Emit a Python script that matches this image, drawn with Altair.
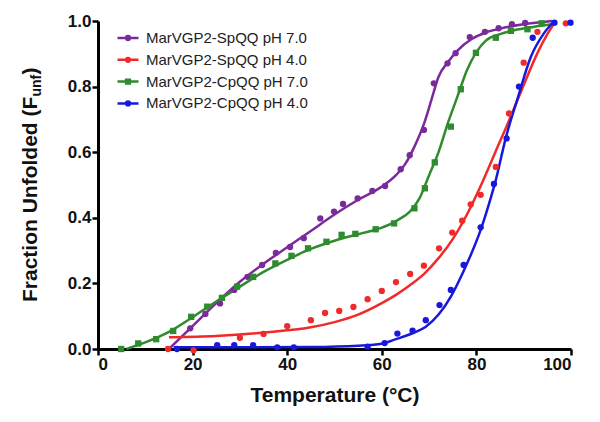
import altair as alt
import pandas as pd

# ---------------- data ----------------
series = ["MarVGP2-SpQQ pH 7.0", "MarVGP2-SpQQ pH 4.0",
          "MarVGP2-CpQQ pH 7.0", "MarVGP2-CpQQ pH 4.0"]
colors = ["#7b2a9c", "#f02a2a", "#2e8b2e", "#1818dc"]
shapes = ["circle", "circle", "square", "circle"]

x_ticks = [0, 20, 40, 60, 80, 100]
y_ticks = [0.0, 0.2, 0.4, 0.6, 0.8, 1.0]

# measured points
sp7_t = [19.5, 22.7, 25.8, 28.8, 31.6, 34.7, 37.6, 40.6, 43.5, 47.0, 49.9, 51.8,
         54.9, 58.0, 60.7, 64.0, 65.9, 68.9, 71.0, 73.9, 75.6, 78.6, 81.8, 84.7,
         87.5, 90.3]
sp7_f = [0.063, 0.107, 0.139, 0.180, 0.220, 0.256, 0.293, 0.311, 0.338, 0.398,
         0.419, 0.442, 0.459, 0.482, 0.497, 0.548, 0.591, 0.668, 0.810, 0.871,
         0.902, 0.951, 0.967, 0.978, 0.990, 0.994]

sp4_t = [14.8, 20.2, 30.0, 35.0, 40.0, 45.0, 48.0, 51.0, 54.0, 57.0, 60.0, 63.0,
         66.0, 68.9, 72.1, 74.9, 77.0, 78.8, 80.9, 84.1, 86.9, 90.0, 92.9, 98.9]
sp4_f = [0.000, -0.004, 0.034, 0.046, 0.070, 0.088, 0.110, 0.116, 0.128, 0.152,
         0.177, 0.204, 0.229, 0.254, 0.307, 0.355, 0.391, 0.441, 0.470, 0.555,
         0.718, 0.873, 0.967, 0.993]

cp7_t = [4.9, 8.5, 12.3, 15.9, 19.7, 23.1, 26.2, 29.4, 32.8, 37.5, 40.9, 44.4,
         48.3, 51.5, 54.4, 58.7, 62.6, 66.9, 69.1, 71.2, 74.6, 76.7, 79.9, 84.1,
         87.3, 90.8, 93.8]
cp7_f = [0.000, 0.017, 0.030, 0.055, 0.098, 0.129, 0.156, 0.190, 0.220, 0.261,
         0.284, 0.307, 0.327, 0.348, 0.351, 0.365, 0.383, 0.429, 0.490, 0.569,
         0.678, 0.792, 0.903, 0.949, 0.970, 0.975, 0.993]

cp4_t = [16.7, 25.2, 28.8, 32.8, 37.9, 41.4, 57.0, 60.6, 63.3, 66.5, 69.3, 72.2,
         74.6, 77.3, 80.9, 83.7, 86.4, 89.0, 91.9, 96.5, 99.9]
cp4_f = [0.000, 0.012, 0.012, 0.012, 0.005, 0.005, 0.007, 0.018, 0.047, 0.056,
         0.088, 0.134, 0.180, 0.256, 0.371, 0.503, 0.642, 0.800, 0.949, 0.995,
         0.995]

# fitted curves
sp7_fit_t = [15, 20, 25, 30, 35, 40, 45, 50, 55, 60, 63, 65, 67, 69, 70.5, 72,
             74, 76, 79, 82, 86, 90, 96]
sp7_fit_f = [0.0, 0.07, 0.14, 0.205, 0.26, 0.31, 0.36, 0.41, 0.455, 0.495, 0.53,
             0.565, 0.62, 0.69, 0.76, 0.83, 0.875, 0.91, 0.945, 0.965, 0.98,
             0.99, 1.0]

sp4_fit_t = [15, 25, 35, 45, 50, 55, 60, 63, 66, 69, 72, 75, 78, 81, 84,
             87, 90, 93, 95, 96.8]
sp4_fit_f = [0.036, 0.04, 0.05, 0.066, 0.082, 0.105, 0.14, 0.165, 0.195,
             0.23, 0.277, 0.335, 0.41, 0.5, 0.6, 0.7, 0.805, 0.905, 0.96, 1.0]

cp7_fit_t = [6, 10, 15, 20, 25, 30, 35, 40, 45, 50, 55, 60, 63, 66, 68, 70, 72,
             74, 76, 78, 80, 82, 85, 88, 92, 96]
cp7_fit_f = [0.0, 0.02, 0.052, 0.097, 0.145, 0.19, 0.235, 0.272, 0.305, 0.33,
             0.35, 0.37, 0.39, 0.42, 0.46, 0.53, 0.6, 0.69, 0.77, 0.85, 0.905,
             0.94, 0.96, 0.972, 0.982, 0.99]

cp4_fit_t = [16, 30, 45, 55, 60, 63, 66.5, 69.3, 72, 74.6, 77.4, 80.9, 83.1,
             84.1, 86.2, 88.8, 91.5, 94.3, 96.5]
cp4_fit_f = [0.005, 0.005, 0.006, 0.01, 0.016, 0.03, 0.048, 0.068, 0.105, 0.16,
             0.241, 0.363, 0.464, 0.515, 0.643, 0.768, 0.89, 0.963, 1.0]

y_title_main = ["Fraction Unfolded (F"]
y_title_sub = ["unf"]
y_title_close = [")"]

# ---------------- tables ----------------
def long(name, t, f):
    return pd.DataFrame({"series": name, "temp": t, "frac": f})

pts = pd.concat([long(series[0], sp7_t, sp7_f), long(series[1], sp4_t, sp4_f),
                 long(series[2], cp7_t, cp7_f), long(series[3], cp4_t, cp4_f)])
fits = pd.concat([long(series[0], sp7_fit_t, sp7_fit_f),
                  long(series[1], sp4_fit_t, sp4_fit_f),
                  long(series[2], cp7_fit_t, cp7_fit_f),
                  long(series[3], cp4_fit_t, cp4_fit_f)])

FONT = "Liberation Sans"

# legend glyphs: short line with a small marker
circle_path = "M-1,0H1M-0.18,0A0.18,0.18 0 1,0 0.18,0A0.18,0.18 0 1,0 -0.18,0Z"
square_path = "M-1,0H1M-0.18,-0.18H0.18V0.18H-0.18Z"
legend_shapes = [circle_path, circle_path, square_path, circle_path]

x_enc = alt.X("temp:Q",
              scale=alt.Scale(domain=[0, 100], nice=False, zero=False),
              axis=alt.Axis(values=x_ticks, title="Temperature (°C)",
                            titleFontSize=21, titlePadding=12))
y_enc = alt.Y("frac:Q",
              scale=alt.Scale(domain=[0, 1], nice=False),
              axis=alt.Axis(values=y_ticks, format=".1f", title=None))

color_scale = alt.Scale(domain=series, range=colors)

lines = alt.Chart(fits).mark_line(strokeWidth=2.5, interpolate="monotone").encode(
    x=x_enc, y=y_enc,
    color=alt.Color("series:N", scale=color_scale, legend=None),
)

points = alt.Chart(pts).mark_point(filled=True, size=40, opacity=1).encode(
    x=x_enc, y=y_enc,
    color=alt.Color("series:N", scale=color_scale, legend=None),
    shape=alt.Shape("series:N", scale=alt.Scale(domain=series, range=shapes),
                    legend=None),
)

leg = dict(title=None, orient="none", legendX=18, legendY=5,
           symbolSize=441, symbolStrokeWidth=2.5, symbolOpacity=1,
           labelFont=FONT, labelFontSize=15, labelColor="#222", labelOffset=6,
           labelLimit=400, rowPadding=1.8, padding=0)

legend_layer = alt.Chart(pts).transform_filter("false").mark_point(
    filled=False, strokeWidth=2.5
).encode(
    x=x_enc, y=y_enc,
    color=alt.Color("series:N", scale=color_scale, legend=alt.Legend(**leg)),
    shape=alt.Shape("series:N",
                    scale=alt.Scale(domain=series, range=legend_shapes),
                    legend=alt.Legend(**leg)),
)

def title_piece(values, size, xpos, ypos):
    return alt.Chart(pd.DataFrame({"t": values})).mark_text(
        angle=270, align="left", baseline="alphabetic", font=FONT,
        fontWeight="bold", fontSize=size, color="#111"
    ).encode(x=alt.value(xpos), y=alt.value(ypos), text="t:N")

yt1 = title_piece(y_title_main, 21, -61, 281)
yt2 = title_piece(y_title_sub, 14, -57, 75.5)
yt3 = title_piece(y_title_close, 21, -61, 53.5)

chart = alt.layer(lines, points, legend_layer, yt1, yt2, yt3).resolve_scale(
    color="independent", shape="independent"
).properties(
    width=473, height=328,
    background="white",
    autosize=alt.AutoSizeParams(type="none"),
    padding={"left": 90, "top": 13, "right": 21, "bottom": 65},
).configure_view(stroke=None).configure_axis(
    grid=False, domainColor="#000", domainWidth=3, tickColor="#000",
    tickWidth=2.5, tickSize=6, labelFont=FONT, labelFontWeight="bold",
    labelFontSize=17, labelColor="#111", labelPadding=1, titleFont=FONT,
    titleFontWeight="bold", titleColor="#111",
)

chart.save("out.html", embed_options={"renderer": "svg", "actions": False})
